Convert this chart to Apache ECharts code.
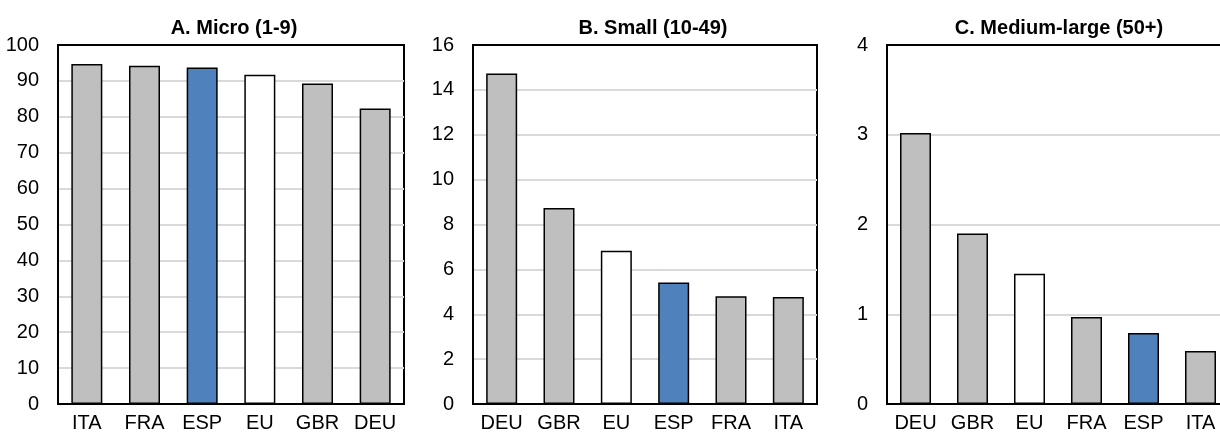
<!DOCTYPE html>
<html>
<head>
<meta charset="utf-8">
<script src="https://cdn.jsdelivr.net/npm/echarts@6/dist/echarts.min.js"></script>
<style>
  html, body { margin: 0; padding: 0; background: #fff; overflow: hidden; }
  #chart { width: 1240px; height: 433px; }
</style>
</head>
<body>
<div id="chart"></div>
<script>
// panel A: micro firms (1-9)
var catsA = ['ITA', 'FRA', 'ESP', 'EU', 'GBR', 'DEU'];
var valsA = [94.7, 94.2, 93.7, 91.7, 89.3, 82.3];
// panel B: small firms (10-49)
var catsB = ['DEU', 'GBR', 'EU', 'ESP', 'FRA', 'ITA'];
var valsB = [14.73, 8.74, 6.83, 5.42, 4.80, 4.77];
// panel C: medium-large firms (50+)
var catsC = ['DEU', 'GBR', 'EU', 'FRA', 'ESP', 'ITA'];
var valsC = [3.02, 1.90, 1.45, 0.97, 0.79, 0.59];

var titles = ['A. Micro (1-9)', 'B. Small (10-49)', 'C. Medium-large (50+)'];

var FONT = "'Liberation Sans Narrow', 'Arial Narrow', 'Liberation Sans', Arial, sans-serif";

function barColor(c) {
    if (c === 'ESP') return '#4f81bd';
    if (c === 'EU') return '#ffffff';
    return '#bfbfbf';
}

function makeData(cats, vals) {
    return vals.map(function (v, i) {
        return { value: v, itemStyle: { color: barColor(cats[i]) } };
    });
}

// the third panel runs a little past the right edge of the picture
var panels = [
    { cats: catsA, vals: valsA, left: 58, width: 346, max: 100, interval: 10, titleX: 229 },
    { cats: catsB, vals: valsB, left: 473, width: 344, max: 16, interval: 2, titleX: 648 },
    { cats: catsC, vals: valsC, left: 887, width: 342, max: 4, interval: 1, titleX: 1054 }
];

var chart = echarts.init(document.getElementById('chart'));

var option = {
    animation: false,
    title: [],
    grid: [],
    xAxis: [],
    yAxis: [],
    series: []
};

panels.forEach(function (p, k) {
    option.title.push({
        text: titles[k],
        left: p.titleX,
        top: 13,
        textAlign: 'center',
        textStyle: { fontFamily: FONT, fontSize: 20, fontWeight: 'bold', color: '#000' }
    });
    option.grid.push({
        left: p.left, width: p.width, top: 45, bottom: 26,
        show: true, borderColor: '#000', borderWidth: 2,
        containLabel: false
    });
    option.xAxis.push({
        type: 'category',
        gridIndex: k,
        data: p.cats,
        axisLine: { lineStyle: { color: '#000', width: 2 } },
        axisTick: { show: false },
        axisLabel: { fontFamily: FONT, fontSize: 20, color: '#000', margin: 9, interval: 0 }
    });
    option.yAxis.push({
        type: 'value',
        gridIndex: k,
        min: 0, max: p.max, interval: p.interval,
        axisLine: { show: true, lineStyle: { color: '#000', width: 2 } },
        axisTick: { show: false },
        splitLine: { showMaxLine: false, lineStyle: { color: '#d9d9d9', width: 2 } },
        axisLabel: { fontFamily: FONT, fontSize: 20, color: '#000', margin: 19 }
    });
    option.series.push({
        type: 'bar',
        xAxisIndex: k,
        yAxisIndex: k,
        barWidth: 31,
        data: makeData(p.cats, p.vals),
        itemStyle: { borderColor: '#000', borderWidth: 1.5 }
    });
});

chart.setOption(option);
window.addEventListener('resize', function () {
    chart.resize();
});
</script>
</body>
</html>
